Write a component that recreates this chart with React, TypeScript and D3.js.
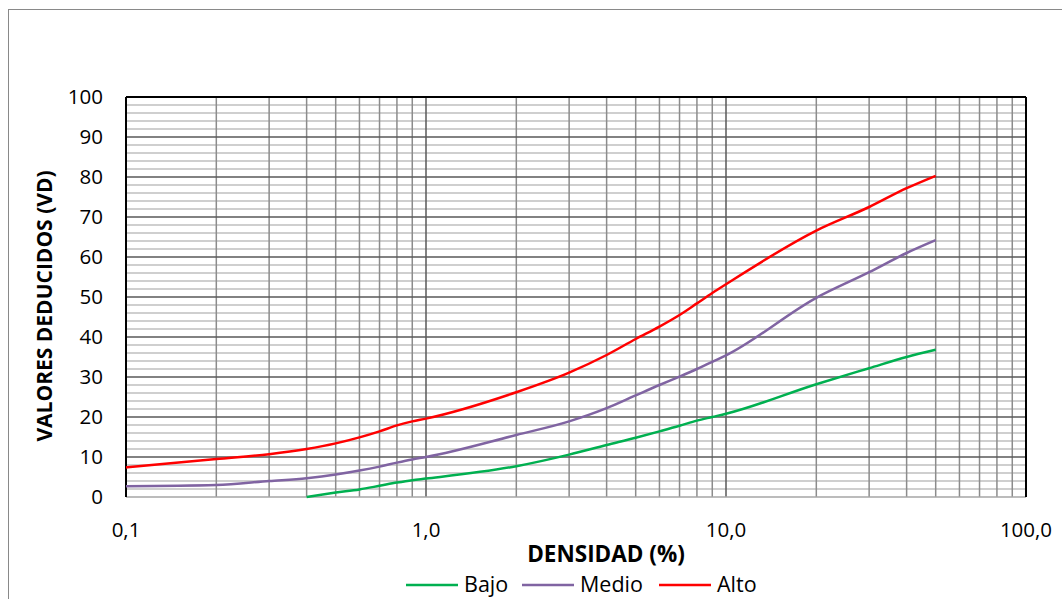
import * as d3 from 'd3'

// densidad (%) sampled along the curves
const densidad = [0.1, 0.2, 0.3, 0.4, 0.5, 0.6, 0.7, 0.8, 0.9, 1, 2, 3, 4, 5, 6, 7, 8, 9, 10, 20, 30, 40, 50]
const alto = [7.4, 9.5, 10.7, 12, 13.4, 14.9, 16.4, 17.9, 18.9, 19.6, 26.2, 31.1, 35.5, 39.5, 42.6, 45.5, 48.4, 51, 53.2, 66.6, 72.5, 77.2, 80.3]
const medio = [2.7, 3, 4, 4.7, 5.6, 6.6, 7.6, 8.6, 9.4, 10, 15.5, 18.9, 22.2, 25.4, 28, 30.1, 32, 33.8, 35.4, 49.8, 56.2, 61, 64.2]
const bajoX = [0.4, 0.5, 0.6, 0.7, 0.8, 0.9, 1, 2, 3, 4, 5, 6, 7, 8, 9, 10, 20, 30, 40, 50]
const bajo = [0, 1.1, 1.9, 2.8, 3.6, 4.2, 4.6, 7.7, 10.6, 13, 14.8, 16.4, 17.8, 19.1, 20, 20.8, 28.2, 32.2, 35, 36.8]

const xTicks = [0.1, 1, 10, 100]
const yTicks = [0, 10, 20, 30, 40, 50, 60, 70, 80, 90, 100]

const series = [
  { name: 'Bajo', xs: bajoX, ys: bajo, color: '#00b050' },
  { name: 'Medio', xs: densidad, ys: medio, color: '#8064a2' },
  { name: 'Alto', xs: densidad, ys: alto, color: '#ff0000' },
]

const W = 1062
const H = 599
const font = '"Open Sans", Lato, sans-serif'

export default function App() {
  const x = d3.scaleLog().domain([0.1, 100]).range([126, 1026])
  const y = d3.scaleLinear().domain([0, 100]).range([497, 97])

  const minorX: number[] = []
  ;[0.1, 1, 10].forEach(d => {
    for (let k = 2; k <= 9; k++) minorX.push(d * k)
  })
  const minorY = d3.range(2, 100, 2).filter(v => v % 10 !== 0)

  const line = d3.line<[number, number]>()
    .x(d => x(d[0]))
    .y(d => y(d[1]))
    .curve(d3.curveMonotoneX)

  const fmt = (v: number) => v.toFixed(1).replace('.', ',')

  const legendX = [406, 522, 659]

  return (
    <svg width={W} height={H} style={{ position: 'absolute', left: 0, top: 0 }}>
      <rect x={0} y={0} width={W} height={H} fill="#fff" />
      <rect x={8.5} y={9.5} width={W + 20} height={H + 20} fill="#fff" stroke="#898989" strokeWidth={1} />

      {minorY.map(v => (
        <line key={'my' + v} x1={x(0.1)} x2={x(100)} y1={y(v)} y2={y(v)} stroke="#bfbfbf" strokeWidth={1.5} />
      ))}
      {minorX.map(v => (
        <line key={'mx' + v} x1={x(v)} x2={x(v)} y1={y(0)} y2={y(100)} stroke="#8c8c8c" strokeWidth={1.5} />
      ))}
      {yTicks.filter(v => v > 0 && v < 100).map(v => (
        <line key={'gy' + v} x1={x(0.1)} x2={x(100)} y1={y(v)} y2={y(v)} stroke="#595959" strokeWidth={1.5} />
      ))}
      {[1, 10].map(v => (
        <line key={'gx' + v} x1={x(v)} x2={x(v)} y1={y(0)} y2={y(100)} stroke="#595959" strokeWidth={1.5} />
      ))}
      <line x1={x(0.1)} x2={x(100)} y1={y(0)} y2={y(0)} stroke="#a6a6a6" strokeWidth={1.5} />
      <line x1={x(0.1)} x2={x(100)} y1={y(100)} y2={y(100)} stroke="#000" strokeWidth={2} />
      <line x1={x(0.1)} x2={x(0.1)} y1={y(0)} y2={y(100)} stroke="#000" strokeWidth={2} />
      <line x1={x(100)} x2={x(100)} y1={y(0)} y2={y(100)} stroke="#000" strokeWidth={2} />

      {series.map(s => (
        <path
          key={s.name}
          d={line(s.xs.map((v, i) => [v, s.ys[i]] as [number, number])) || ''}
          fill="none"
          stroke={s.color}
          strokeWidth={2.5}
        />
      ))}

      <g fontFamily={font} fill="#000">
        {yTicks.map(v => (
          <text key={'ty' + v} x={103} y={y(v)} dy="0.36em" textAnchor="end" fontSize={20.5}>{v}</text>
        ))}
        {xTicks.map(v => (
          <text key={'tx' + v} x={x(v)} y={537} textAnchor="middle" fontSize={20.5}>{fmt(v)}</text>
        ))}
        <text x={606} y={562} textAnchor="middle" fontWeight="bold" fontSize={22.5}>DENSIDAD (%)</text>
        <text transform="translate(52,306) rotate(-90)" textAnchor="middle" fontWeight="bold" fontSize={21}>VALORES DEDUCIDOS (VD)</text>
        {series.map((s, i) => (
          <g key={'lg' + s.name}>
            <line x1={legendX[i]} x2={legendX[i] + 52} y1={585} y2={585} stroke={s.color} strokeWidth={2.5} />
            <text x={legendX[i] + 58} y={592} fontSize={21.5}>{s.name}</text>
          </g>
        ))}
      </g>
    </svg>
  )
}
